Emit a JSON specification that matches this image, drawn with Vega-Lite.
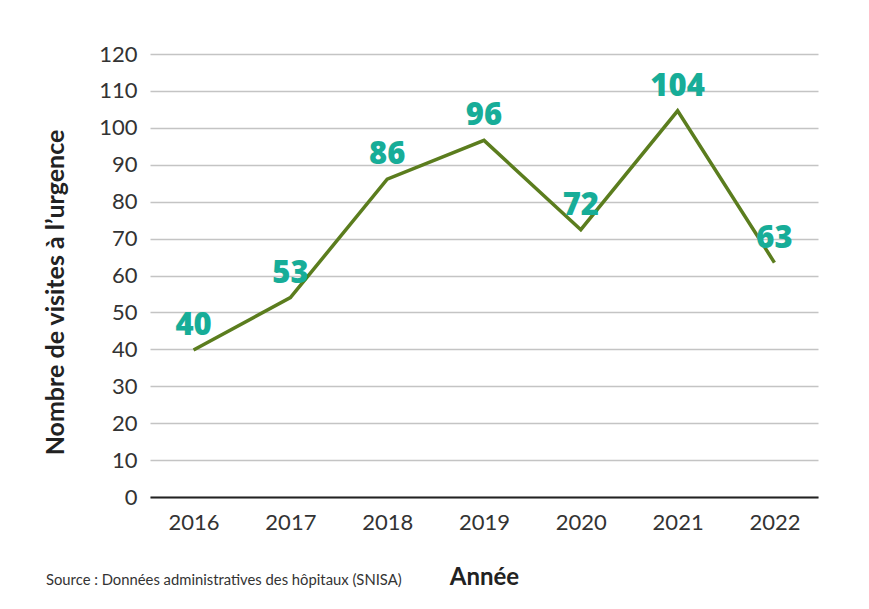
{
  "$schema": "https://vega.github.io/schema/vega-lite/v6.json",
  "autosize": {"type": "none"},
  "width": 668,
  "height": 443,
  "padding": {"left": 150, "top": 54, "right": 51, "bottom": 112},
  "background": "white",
  "config": {
    "view": {"stroke": null},
    "font": "Lato"
  },
  "title": {
    "text": "Source : Données administratives des hôpitaux (SNISA)",
    "orient": "bottom",
    "anchor": "start",
    "frame": "bounds",
    "font": "Lato",
    "fontSize": 14.8,
    "fontWeight": "normal",
    "color": "#333333",
    "offset": -16,
    "dx": 3
  },
  "data": {
    "values": [
      {"annee": "2016", "visites": 39.8, "label": "40"},
      {"annee": "2017", "visites": 54.0, "label": "53"},
      {"annee": "2018", "visites": 86.1, "label": "86"},
      {"annee": "2019", "visites": 96.6, "label": "96"},
      {"annee": "2020", "visites": 72.4, "label": "72"},
      {"annee": "2021", "visites": 104.6, "label": "104"},
      {"annee": "2022", "visites": 63.5, "label": "63"}
    ]
  },
  "encoding": {
    "x": {
      "field": "annee",
      "type": "ordinal",
      "scale": {"type": "point", "padding": 0.45},
      "axis": {
        "title": "Année",
        "titleFont": "Lato",
        "titleFontSize": 24,
        "titleFontWeight": "bold",
        "titleColor": "#222222",
        "titleY": 80,
        "titleBaseline": "middle",
        "labelAngle": 0,
        "labelFont": "Lato",
        "labelFontSize": 22,
        "labelColor": "#333333",
        "labelPadding": 15,
        "ticks": false,
        "domainColor": "#222222",
        "domainWidth": 2
      }
    },
    "y": {
      "field": "visites",
      "type": "quantitative",
      "scale": {"domain": [0, 120]},
      "axis": {
        "title": "Nombre de visites à l’urgence",
        "titleFont": "Lato",
        "titleFontSize": 25,
        "titleFontWeight": "bold",
        "titleColor": "#222222",
        "titleX": -82,
        "titleY": 238,
        "values": [0, 10, 20, 30, 40, 50, 60, 70, 80, 90, 100, 110, 120],
        "labelFont": "Lato",
        "labelFontSize": 22,
        "labelColor": "#333333",
        "labelPadding": 13,
        "ticks": false,
        "domain": false,
        "gridColor": "#c4c4c4",
        "gridWidth": 1.5
      }
    }
  },
  "layer": [
    {
      "mark": {"type": "line", "color": "#5b7d1e", "strokeWidth": 3.5}
    },
    {
      "mark": {
        "type": "text",
        "dy": -24,
        "font": "Open Sans",
        "fontSize": 31,
        "fontWeight": 800,
        "color": "#17ad98"
      },
      "encoding": {"text": {"field": "label"}}
    }
  ]
}
